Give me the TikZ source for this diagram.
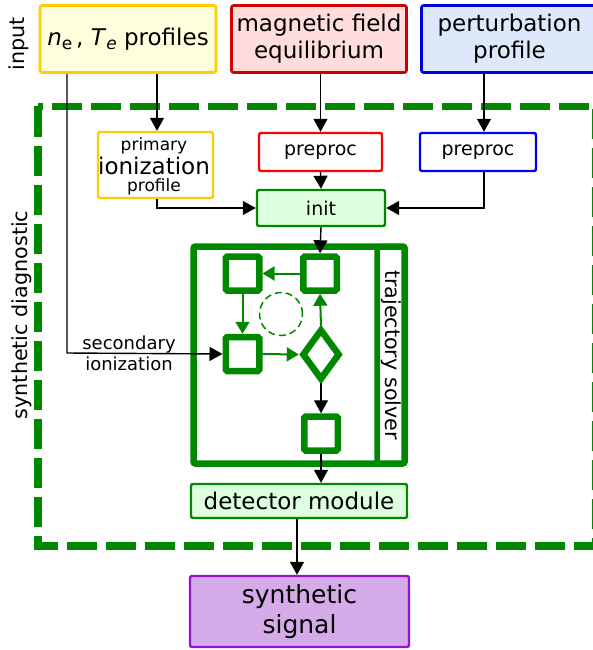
\documentclass[tikz,border=0pt]{standalone}
\usepackage{fontspec}
\setmainfont{DejaVu Sans}
\usetikzlibrary{arrows.meta,shapes.geometric}
\definecolor{yelB}{HTML}{FFCC00}
\definecolor{yelF}{HTML}{FFFFDD}
\definecolor{redB}{HTML}{CC0000}
\definecolor{redF}{HTML}{FFDDDD}
\definecolor{bluB}{HTML}{0000DD}
\definecolor{bluF}{HTML}{DDE8FA}
\definecolor{grn}{HTML}{008800}
\definecolor{grnF}{HTML}{DDFFDD}
\definecolor{purB}{HTML}{9911CC}
\definecolor{purF}{HTML}{D5AAE8}
\begin{document}
\begin{tikzpicture}[x=1pt,y=-1pt,
  box/.style={draw, rounded corners=2pt, align=center, inner sep=0pt},
  inbox/.style={box, line width=2.6pt, font=\fontsize{23}{27}\selectfont},
  smallbox/.style={box, line width=2.4pt, font=\fontsize{19}{22}\selectfont},
  gsq/.style={draw=grn, line width=6.5pt, rounded corners=1.5pt, minimum width=33.5pt, minimum height=34pt, inner sep=0pt},
  arr/.style={-{Triangle[length=13pt,width=14pt]}, line width=1.4pt},
  garr/.style={-{Triangle[length=12pt,width=14pt]}, line width=2pt, draw=grn, fill=grn},
  rot/.style={font=\fontsize{20.7}{23}\selectfont}
]
\useasboundingbox (0,0) rectangle (593,650);

% dashed synthetic diagnostic frame
\draw[grn, line width=7.5pt, dash pattern=on 30pt off 9pt] (38,106.5) rectangle (595.5,546);

% input boxes
\node[inbox, draw=yelB, fill=yelF, minimum width=176pt, minimum height=67pt] (ne) at (128,39)
  {\textit{n}\raisebox{-0.35ex}{\fontsize{17}{17}\selectfont e}\,, \textit{T}\raisebox{-0.35ex}{\fontsize{17}{17}\selectfont\textit{e}} profiles};
\node[inbox, draw=redB, fill=redF, minimum width=175pt, minimum height=67pt] (mag) at (319,39)
  {magnetic field\\equilibrium};
\node[inbox, draw=bluB, fill=bluF, minimum width=176pt, minimum height=67pt] (pert) at (509.5,39)
  {perturbation\\profile};

\node[rot, rotate=90] (inp) at (19,44) {input};
\node[rot, rotate=90] (sd) at (22,315) {synthetic diagnostic};

% second row
\node[box, line width=2.4pt, draw=yelB, fill=white, minimum width=115pt, minimum height=66pt] (prim) at (155.5,165) {};
\node[anchor=base, inner sep=0pt, font=\fontsize{17}{19}\selectfont] (primA) at (154,150) {primary};
\node[anchor=base, inner sep=0pt, font=\fontsize{23}{25}\selectfont] (primB) at (154,174) {ionization};
\node[anchor=base, inner sep=0pt, font=\fontsize{17}{19}\selectfont] (primC) at (154,191) {profile};
\node[smallbox, draw=red, fill=white, minimum width=123pt, minimum height=38pt] (pre1) at (320.5,152) {preproc};
\node[smallbox, draw=blue, fill=white, minimum width=116pt, minimum height=38pt] (pre2) at (478,152) {preproc};
\node[smallbox, draw=grn, fill=grnF, minimum width=128pt, minimum height=36pt] (init) at (321,208) {init};

% trajectory solver block
\node[draw=grn, line width=6.5pt, rounded corners=2pt, minimum width=211pt, minimum height=217pt, inner sep=0pt] (big) at (299,355) {};
\node[draw=grn, line width=5.5pt, rounded corners=2pt, minimum width=28pt, minimum height=217pt, inner sep=0pt] (traj) at (391,355) {};
\node[rot, rotate=-90] (trajlbl) at (391,355) {trajectory solver};

\node[gsq] (sq1) at (242.5,273.5) {};
\node[gsq] (sq2) at (320,273.5) {};
\node[gsq] (sq3) at (242.5,354) {};
\node[gsq] (sq4) at (321,433.5) {};
\node[diamond, draw=grn, line width=6.5pt, minimum width=38pt, minimum height=51pt, inner sep=0pt] (dia) at (321,354.5) {};
\node[circle, draw=grn, dash pattern=on 7pt off 4pt, line width=1.5pt, minimum size=43pt, inner sep=0pt] (circ) at (281,314) {};

\node[inbox, line width=2.4pt, draw=grn, fill=grnF, minimum width=216pt, minimum height=34pt] (det) at (299,501) {detector module};
\node[box, line width=2.4pt, draw=purB, fill=purF, minimum width=219pt, minimum height=71pt, font=\fontsize{25}{30}\selectfont] (sig) at (299.5,611.5) {synthetic\\signal};

% connectors
\coordinate (c1) at (157,0);
\coordinate (c2) at (484,0);
\coordinate (sec) at (67,353);
\coordinate (d2) at (297,0);
\draw[arr] (ne.south -| c1) -- (prim.north -| c1);
\draw[arr] (mag.south -| pre1.north) -- (pre1.north);
\draw[arr] (pert.south -| c2) -- (pre2.north -| c2);
\draw[arr] (pre1.south) -- (init.north);
\draw[arr] (prim.south -| c1) |- (init.west);
\draw[arr] (pre2.south -| c2) |- (init.east);
\draw[arr] (init.south) -- (sq2.north);
\draw[arr] (ne.south -| sec) -- (sec) -- (sq3.west);
\node[font=\fontsize{18}{21}\selectfont, align=center] (seclbl) at (129,353) {secondary\\ionization};

\draw[garr] (sq2.west) -- (sq1.east);
\draw[garr] (sq1.south) -- (sq3.north);
\draw[garr] (sq3.east) -- (dia.west);
\draw[garr] (dia.north) -- (sq2.south);
\draw[arr] (dia.south) -- (sq4.north);
\draw[arr] (sq4.south) -- (sq4.south |- det.north);
\draw[arr] (det.south -| d2) -- (sig.north -| d2);
\end{tikzpicture}
\end{document}
